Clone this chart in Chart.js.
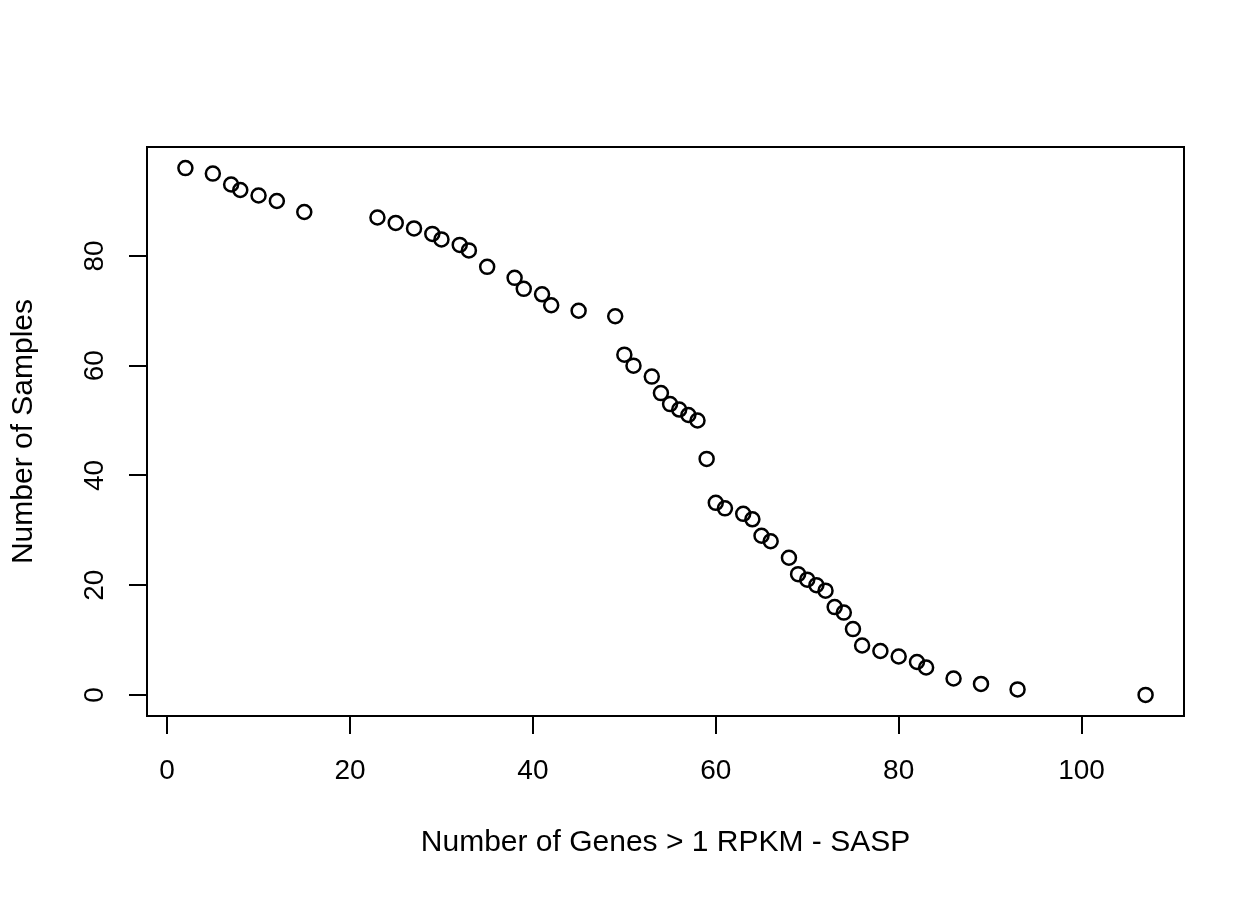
<!DOCTYPE html>
<html>
<head>
<meta charset="utf-8">
<script src="https://cdn.jsdelivr.net/npm/chart.js@4/dist/chart.umd.min.js"></script>
<style>
  html, body { margin: 0; padding: 0; background: #fff; }
  #wrap { width: 1260px; height: 900px; }
</style>
</head>
<body>
<div id="wrap"><canvas id="plot"></canvas></div>
<script>
// genes above 1 RPKM (x) vs number of samples (y)
var genes = [2, 5, 7, 8, 10, 12, 15, 23, 25, 27, 29, 30, 32, 33, 35, 38, 39, 41, 42, 45,
             49, 50, 51, 53, 54, 55, 56, 57, 58, 59, 60, 61, 63, 64, 65, 66, 68, 69, 70, 71,
             72, 73, 74, 75, 76, 78, 80, 82, 83, 86, 89, 93, 107];
var samples = [96, 95, 93, 92, 91, 90, 88, 87, 86, 85, 84, 83, 82, 81, 78, 76, 74, 73, 71, 70,
               69, 62, 60, 58, 55, 53, 52, 51, 50, 43, 35, 34, 33, 32, 29, 28, 25, 22, 21, 20,
               19, 16, 15, 12, 9, 8, 7, 6, 5, 3, 2, 1, 0];
var xTicks = [0, 20, 40, 60, 80, 100];
var yTicks = [0, 20, 40, 60, 80];
var xTitle = 'Number of Genes > 1 RPKM - SASP';
var yTitle = 'Number of Samples';

var pts = [];
for (var i = 0; i < genes.length; i++) {
    pts.push({x: genes[i], y: samples[i]});
}

// R style 4% padding around the data range
function padRange(arr) {
    var lo = Math.min.apply(null, arr), hi = Math.max.apply(null, arr);
    var d = (hi - lo) * 0.04;
    return [lo - d, hi + d];
}
var xr = padRange(genes), yr = padRange(samples);

var family = "'Liberation Sans', Arial, Helvetica, sans-serif";
var tickFont = {family: family, size: 28};
var titleFont = {family: family, size: 30};

// box around the plot region
var boxPlugin = {
    id: 'box',
    afterDraw: function(chart) {
        var a = chart.chartArea, c = chart.ctx;
        c.save();
        c.strokeStyle = '#000';
        c.lineWidth = 2;
        c.strokeRect(a.left, a.top, a.right - a.left, a.bottom - a.top);
        c.restore();
    }
};

new Chart(document.getElementById('plot'), {
    type: 'scatter',
    data: {
        datasets: [{
            data: pts,
            pointStyle: 'circle',
            pointRadius: 7,
            pointHoverRadius: 7,
            borderWidth: 2.5,
            borderColor: '#000',
            backgroundColor: 'rgba(0,0,0,0)'
        }]
    },
    options: {
        responsive: true,
        maintainAspectRatio: false,
        animation: false,
        clip: false,
        layout: { padding: {top: 147, right: 76, left: 0, bottom: 0} },
        plugins: {
            legend: { display: false },
            tooltip: { enabled: false }
        },
        scales: {
            x: {
                type: 'linear',
                min: xr[0], max: xr[1],
                afterBuildTicks: function(s) { s.ticks = xTicks.map(function(v) { return {value: v}; }); },
                afterFit: function(s) { s.height = 184; },
                border: { display: false },
                grid: { drawOnChartArea: false, drawTicks: true, tickLength: 18, color: '#000', lineWidth: 2 },
                ticks: { color: '#000', font: tickFont, padding: 20, maxRotation: 0 },
                title: { display: true, text: xTitle, color: '#000', font: titleFont, padding: {top: 0, bottom: 39} }
            },
            y: {
                type: 'linear',
                min: yr[0], max: yr[1],
                afterBuildTicks: function(s) { s.ticks = yTicks.map(function(v) { return {value: v}; }); },
                afterFit: function(s) { s.width = 147; },
                border: { display: false },
                grid: { drawOnChartArea: false, drawTicks: true, tickLength: 18, color: '#000', lineWidth: 2 },
                ticks: { color: '#000', font: tickFont, padding: 18, minRotation: 90, maxRotation: 90, crossAlign: 'center' },
                title: { display: true, text: yTitle, color: '#000', font: titleFont, padding: {top: 6, bottom: 0} }
            }
        }
    },
    plugins: [boxPlugin]
});
</script>
</body>
</html>
